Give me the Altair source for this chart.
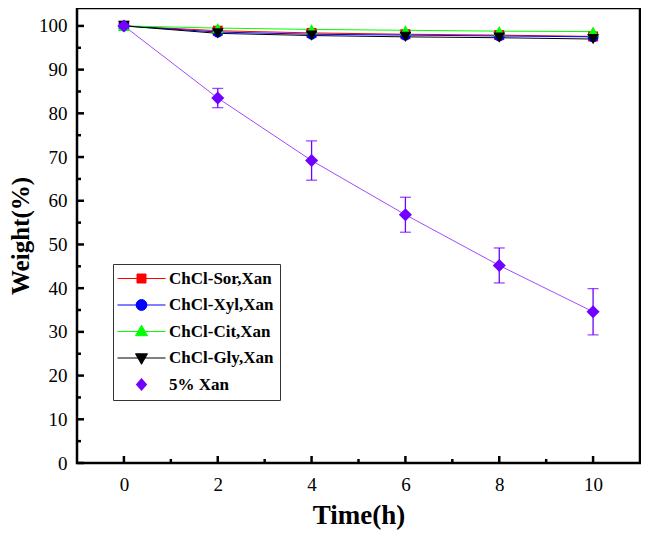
import altair as alt
import pandas as pd

# ---------------- data ----------------
times = [0, 2, 4, 6, 8, 10]
series_names = ["ChCl-Sor,Xan", "ChCl-Xyl,Xan", "ChCl-Cit,Xan", "ChCl-Gly,Xan", "5% Xan"]
sor = [100, 98.9, 98.4, 98.1, 97.9, 97.6]
xyl = [100, 98.6, 98.1, 97.9, 97.7, 97.5]
cit = [100, 99.5, 99.2, 99.0, 98.8, 98.7]
gly = [100, 98.3, 97.8, 97.5, 97.3, 97.0]
xan = [100, 83.5, 69.2, 56.8, 45.2, 34.6]
xan_err = [0.6, 2.2, 4.5, 4.0, 4.0, 5.3]

x_major = [0, 2, 4, 6, 8, 10]
x_minor = [1, 3, 5, 7, 9]
y_major = [0, 10, 20, 30, 40, 50, 60, 70, 80, 90, 100]
y_minor = [5, 15, 25, 35, 45, 55, 65, 75, 85, 95]

# ---------------- styles ----------------
marker_colors = ["#FF0000", "#0000FF", "#00FF00", "#000000", "#7000FF"]
line_colors = ["#FF0000", "#0000FF", "#00FF00", "#000000", "#A24BFF"]
shapes = ["square", "circle", "triangle-up", "triangle-down", "diamond"]
marker_sizes = [100, 120, 140, 140, 170]
legend_paths = [
    "M-4,0H4M-0.75,-0.75H0.75V0.75H-0.75Z",
    "M-4,0H4M-0.9,0A0.9,0.9 0 1,0 0.9,0A0.9,0.9 0 1,0 -0.9,0Z",
    "M-4,0H4M0,-1.05L1.0,0.7H-1.0Z",
    "M-4,0H4M0,1.05L1.0,-0.7H-1.0Z",
    "M0,-1.1L0.95,0L0,1.1L-0.95,0Z",
]
FONT = "Liberation Serif"

series_layers_data = []
for name, vals in zip(series_names, [sor, xyl, cit, gly, xan]):
    series_layers_data.append(pd.DataFrame({"series": name, "t": times, "w": vals}))
df = pd.concat(series_layers_data, ignore_index=True)

err_df = pd.DataFrame({
    "t": times,
    "lo": [v - e for v, e in zip(xan, xan_err)],
    "hi": [v + e for v, e in zip(xan, xan_err)],
})

W, H = 563, 455
xs = alt.Scale(domain=[-1, 11], nice=False, zero=False)
ys = alt.Scale(domain=[0, 104.1], nice=False, zero=False)

x_enc = alt.X("t:Q", scale=xs, axis=alt.Axis(
    values=x_major, title="Time(h)", grid=False, domain=False, ticks=False,
    labelFont=FONT, labelFontSize=19, labelColor="black", labelPadding=12,
    titleFont=FONT, titleFontSize=27, titleFontWeight="bold", titleColor="black",
    titlePadding=8))
y_enc = alt.Y("w:Q", scale=ys, axis=alt.Axis(
    values=y_major, title="Weight(%)", grid=False, domain=False, ticks=False,
    labelFont=FONT, labelFontSize=19, labelColor="black", labelPadding=10,
    titleFont=FONT, titleFontSize=25, titleFontWeight="bold", titleColor="black",
    titlePadding=5))

base = alt.Chart(df)

lines = base.mark_line(strokeWidth=1).encode(
    x=x_enc, y=y_enc,
    color=alt.Color("series:N", scale=alt.Scale(domain=series_names, range=line_colors), legend=None),
    detail="series:N",
)

# vertical error bars + caps for 5% Xan
err_rule = alt.Chart(err_df).mark_rule(color="#7000FF", strokeWidth=1.3).encode(
    x=alt.X("t:Q", scale=xs), y=alt.Y("lo:Q", scale=ys), y2="hi:Q")
err_caps = alt.Chart(err_df).transform_fold(["lo", "hi"], as_=["k", "v"]).mark_tick(
    orient="horizontal", color="#7000FF", size=11, thickness=1.3).encode(
    x=alt.X("t:Q", scale=xs), y=alt.Y("v:Q", scale=ys))

# one point layer per series so later series are drawn on top (as in the original)
point_layers = []
for i, name in enumerate(series_names):
    point_layers.append(
        base.transform_filter(alt.datum.series == name).mark_point(
            filled=True, opacity=1, shape=shapes[i], color=marker_colors[i], size=marker_sizes[i]
        ).encode(x=alt.X("t:Q", scale=xs), y=alt.Y("w:Q", scale=ys))
    )

legend_layer = base.transform_filter("datum.t < -5").mark_point(filled=True, opacity=1).encode(
    x=alt.X("t:Q", scale=xs), y=alt.Y("w:Q", scale=ys),
    fill=alt.Fill("series:N", scale=alt.Scale(domain=series_names, range=marker_colors),
                  legend=alt.Legend(title=None)),
    stroke=alt.Stroke("series:N", scale=alt.Scale(domain=series_names, range=line_colors[:4] + ["#FFFFFF00"]),
                      legend=alt.Legend(title=None)),
    shape=alt.Shape("series:N", scale=alt.Scale(domain=series_names, range=legend_paths),
                    legend=alt.Legend(title=None)),
)

tx_major = alt.Chart(pd.DataFrame({"v": x_major})).mark_rule(color="black", strokeWidth=2.5).encode(
    x=alt.X("v:Q", scale=xs), y=alt.value(H), y2=alt.value(H - 7))
tx_minor = alt.Chart(pd.DataFrame({"v": x_minor})).mark_rule(color="black", strokeWidth=2.5).encode(
    x=alt.X("v:Q", scale=xs), y=alt.value(H), y2=alt.value(H - 4))
ty_major = alt.Chart(pd.DataFrame({"v": y_major})).mark_rule(color="black", strokeWidth=2.5).encode(
    y=alt.Y("v:Q", scale=ys), x=alt.value(0), x2=alt.value(7))
ty_minor = alt.Chart(pd.DataFrame({"v": y_minor})).mark_rule(color="black", strokeWidth=2.5).encode(
    y=alt.Y("v:Q", scale=ys), x=alt.value(0), x2=alt.value(4))

chart = alt.layer(
    lines, err_rule, err_caps, *point_layers, legend_layer,
    tx_major, tx_minor, ty_major, ty_minor,
).resolve_scale(
    color="independent", shape="independent", fill="independent", stroke="independent"
).properties(
    width=W, height=H,
    autosize=alt.AutoSizeParams(type="none"),
    padding={"left": 69, "top": 0, "right": 1, "bottom": 67},
).configure_view(
    stroke="black", strokeWidth=2.5
).configure_legend(
    orient="none", legendX=36, legendY=256,
    padding=6, strokeColor="#333333", fillColor="white",
    labelFont=FONT, labelFontSize=17, labelFontWeight="bold", labelColor="black",
    symbolSize=144, symbolStrokeWidth=1, symbolOffset=14, labelOffset=19,
    rowPadding=8.5, labelLimit=300,
)

chart.save("out.html", embed_options={"renderer": "svg", "actions": False})
